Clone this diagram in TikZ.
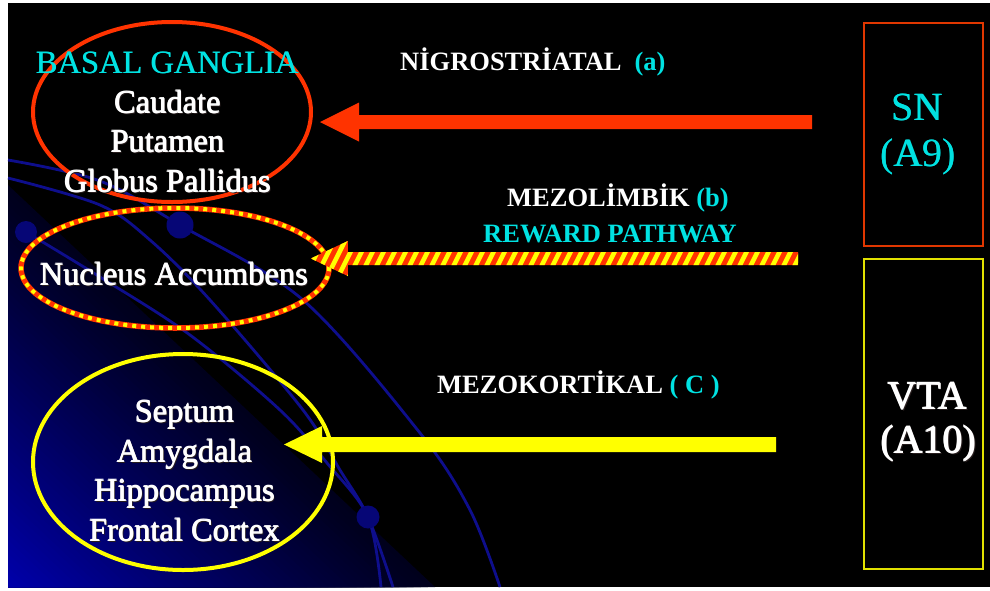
\documentclass[tikz,border=0pt]{standalone}
\usepackage{fontspec}
\setmainfont{Liberation Serif}
\usetikzlibrary{shapes.geometric,calc}

\definecolor{cyantxt}{RGB}{0,226,226}
\definecolor{nigro}{RGB}{255,51,0}
\definecolor{meso}{RGB}{255,255,0}
\definecolor{snframe}{RGB}{225,55,0}
\definecolor{vtaframe}{RGB}{225,225,0}
\definecolor{arcblue}{RGB}{14,14,140}
\definecolor{dotblue}{RGB}{6,6,118}
\definecolor{cornerblue}{RGB}{0,0,172}
\definecolor{edgeblue}{RGB}{0,0,28}
\definecolor{shadowc}{RGB}{40,30,30}

% white lettering with a drop shadow and thickened strokes
\newcommand\embossed[1]{\rlap{\hspace{1.6pt}\raisebox{-1.6pt}{\textcolor{shadowc}{#1}}}%
  \rlap{\hspace{0.9pt}#1}\rlap{\hspace{0.45pt}\raisebox{0.3pt}{#1}}#1}
\newcommand\firmed[1]{\rlap{\hspace{0.5pt}#1}#1}

% block arrow: #1 tail, #2 tip, #3 half shaft, #4 half head, #5 head length
\newcommand\fatarrow[5]{(#2) -- ($(#2)+(#5,-#4)$) -- ($(#2)+(#5,-#3)$)
  -- ($(#1)+(0,-#3)$) -- ($(#1)+(0,#3)$) -- ($(#2)+(#5,#3)$)
  -- ($(#2)+(#5,#4)$) -- cycle}

\begin{document}
\begin{tikzpicture}[x=1pt,y=-1pt,
  arcline/.style={draw=arcblue, line width=2.8},
  dotball/.style={fill=dotblue},
  areatext/.style={font=\fontsize{32.5}{39}\selectfont,
    text=white, inner sep=0, anchor=base},
  areahead/.style={font=\fontsize{32.5}{39}\selectfont,
    text=cyantxt, inner sep=0, anchor=base},
  pathtext/.style={font=\bfseries\fontsize{26.5}{32}\selectfont,
    text=white, inner sep=0, anchor=base west},
  celltext/.style={font=\fontsize{40}{46}\selectfont, inner sep=0, anchor=base},
  cellbox/.style={line width=2, inner sep=0, minimum width=119}
]
\useasboundingbox (0,0) rectangle (990,590);
\fill[white] (0,0) rectangle (990,590);
\fill[black] (8,3) rectangle (990,587);

% blue glow in the lower left corner: nested triangles, brighter towards the corner
\foreach \i in {0,...,60}{
  \pgfmathsetmacro\tt{\i/60}
  \pgfmathsetmacro\pc{100*pow(\tt,1.1)}
  \fill[cornerblue!\pc!edgeblue]
    (8,{185+402*\tt}) -- ({435-427*\tt},587) -- (8,587) -- cycle;
}

% decorative orbit lines and beads
\draw[arcline] plot[smooth, tension=0.55] coordinates
  {(8,160) (100,181) (180,225) (303,300) (420,433) (470,510) (500,587)};
\draw[arcline] plot[smooth, tension=0.55] coordinates
  {(8,178) (100,205) (150,240) (210,300) (303,410) (340,470) (368,517) (393,587)};
\draw[arcline] plot[smooth, tension=0.55] coordinates
  {(26,232) (100,277) (190,335) (280,410) (327,463) (368,517) (381,587)};
\fill[dotball] (26,232) circle (11);
\fill[dotball] (180,225) circle (13.5);
\fill[dotball] (368,517) circle (11.5);

% target regions
\node[ellipse, draw=nigro, line width=4, minimum width=278, minimum height=180,
  inner sep=0] (bg) at (172,112) {};
\node[ellipse, draw=nigro, line width=5.5, minimum width=308, minimum height=120,
  inner sep=0, postaction={draw=meso, line width=4, dash pattern=on 4pt off 5pt}]
  (na) at (175,268) {};
\node[ellipse, draw=meso, line width=4, minimum width=300, minimum height=216,
  inner sep=0] (lim) at (183,462) {};

\node[areahead] (bgt) at (167,73) {\firmed{BASAL GANGLIA}};
\node[areatext] (cau) at (167,113) {\embossed{Caudate}};
\node[areatext] (put) at (167,152) {\embossed{Putamen}};
\node[areatext] (glp) at (167,192) {\embossed{Globus Pallidus}};
\node[areatext] (nac) at (173.5,285) {\embossed{Nucleus Accumbens}};
\node[areatext] (sep) at (184,422) {\embossed{Septum}};
\node[areatext] (amy) at (184,462) {\embossed{Amygdala}};
\node[areatext] (hip) at (184,501) {\embossed{Hippocampus}};
\node[areatext] (frc) at (184,541) {\embossed{Frontal Cortex}};

% source nuclei
\node[cellbox, draw=snframe, minimum height=223] (sn) at (923.5,134.5) {};
\node[cellbox, draw=vtaframe, minimum height=310] (vta) at (923.5,414) {};
\node[celltext, text=cyantxt] (sn1) at (917,120.5) {\firmed{SN}};
\node[celltext, text=cyantxt] (sn2) at (918,166) {\firmed{(A9)}};
\node[celltext, text=white] (vta1) at (927,409) {\embossed{VTA}};
\node[celltext, text=white] (vta2) at (928,453) {\embossed{(A10)}};

% pathway labels
\node[pathtext] (lbla) at (400,70.5) {NİGROSTRİATAL\hspace{13pt}\textcolor{cyantxt}{(a)}};
\node[pathtext] (lblb) at (507,206) {MEZOLİMBİK \textcolor{cyantxt}{(b)}};
\node[pathtext, text=cyantxt] (lblr) at (483,242) {REWARD PATHWAY};
\node[pathtext] (lblc) at (437,393) {MEZOKORTİKAL \textcolor{cyantxt}{( C )}};

% pathway arrows
\coordinate (nsS) at ($(sn.west |- 0,122)+(-51,0)$);
\coordinate (nsT) at ($(bg.east |- 0,122)+(7,0)$);
\coordinate (mlS) at ($(vta.west |- 0,258.5)+(-65,0)$);
\coordinate (mlT) at ($(na.east |- 0,258.5)+(-21,0)$);
\coordinate (mcS) at ($(vta.west |- 0,444.5)+(-87,0)$);
\coordinate (mcT) at ($(lim.east |- 0,444.5)+(-51,0)$);

\fill[nigro] \fatarrow{nsS}{nsT}{7}{19.5}{39};

\fill[nigro] \fatarrow{mlS}{mlT}{6.5}{17.5}{37};
\begin{scope}
  \clip \fatarrow{mlS}{mlT}{6.5}{17.5}{37};
  \foreach \k in {0,...,48}
    \draw[meso, line width=4.5] (290+11*\k,285) -- ++(24,-48);
\end{scope}

\fill[meso] \fatarrow{mcS}{mcT}{7.5}{18.5}{38};
\end{tikzpicture}
\end{document}
